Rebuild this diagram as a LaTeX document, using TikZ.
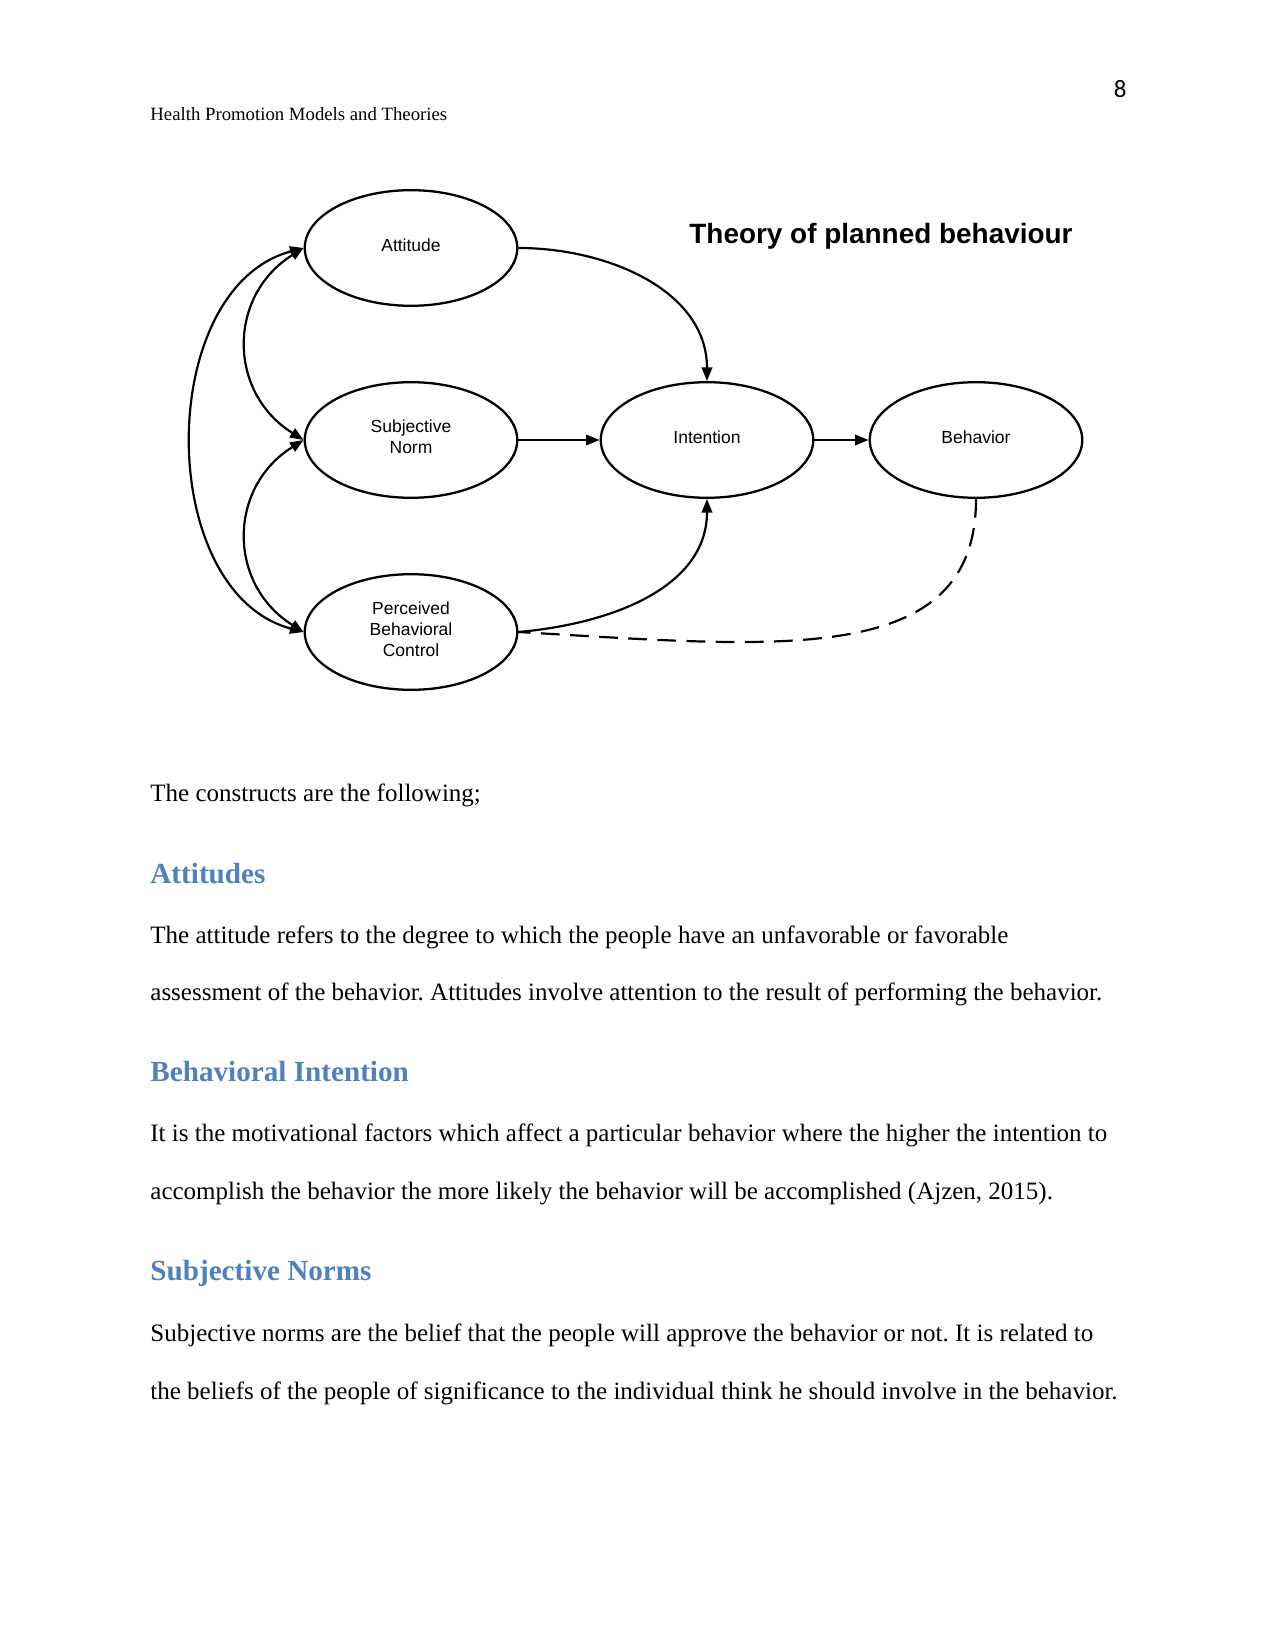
\documentclass[tikz,border=0pt]{standalone}
\usepackage{fontspec}
\setmainfont{Liberation Serif}
\newfontfamily\arialfont{Liberation Sans}
\newfontfamily\calfont{Carlito}
\usetikzlibrary{shapes.geometric,arrows.meta}
\definecolor{headblue}{HTML}{4F81BD}
\frenchspacing
\begin{document}
\begin{tikzpicture}[x=0.48pt,y=-0.48pt,
  >={Triangle[length=6.5pt,width=5pt]},
  oval/.style={ellipse,draw,line width=1.1pt,minimum width=102pt,minimum height=55.5pt,inner sep=0pt,text depth=3pt,align=center,font=\arialfont\fontsize{8.4pt}{10.1pt}\selectfont},
  conn/.style={line width=1.05pt},
  bodytext/.style={anchor=base west,inner sep=0pt,font=\fontsize{12pt}{14pt}\selectfont},
  headtext/.style={anchor=base west,inner sep=0pt,text=headblue,font=\bfseries\fontsize{14pt}{16pt}\selectfont}]
\useasboundingbox[fill=white] (0,0) rectangle (1275,1650);

% header
\node[anchor=base west,inner sep=0pt,font=\fontsize{9pt}{11pt}\selectfont] (hdr) at (150,121) {Health Promotion Models and Theories};
\node[anchor=base east,inner sep=0pt,font=\calfont\fontsize{12pt}{14pt}\selectfont] (pg) at (1127,98) {8};

% diagram
\node[oval] (att) at (411,248) {Attitude};
\node[oval] (sn) at (411,440) {Subjective\\Norm};
\node[oval] (pbc) at (411,632) {Perceived\\Behavioral\\Control};
\node[oval] (int) at (707,440) {Intention};
\node[oval] (beh) at (976,440) {Behavior};
\node[anchor=base west,inner sep=0pt,font=\arialfont\bfseries\fontsize{13.4pt}{16pt}\selectfont] (ttl) at (689,244) {Theory of planned behaviour};

\draw[conn,->] (att.east) to[out=0,in=90] (int.north);
\draw[conn,->] (sn.east) -- (int.west);
\draw[conn,->] (int.east) -- (beh.west);
\draw[conn,->] (pbc.east) to[out=5,in=-90] (int.south);
\draw[conn,dash pattern=on 9pt off 5pt] (beh.south) .. controls +(0,170) and +(260,15) .. (pbc.east);
\draw[conn,<->] (att.west) to[out=212,in=148,looseness=1.2] (sn.west);
\draw[conn,<->] (sn.west) to[out=212,in=148,looseness=1.2] (pbc.west);
\draw[conn,<->] (att.west) to[out=195,in=165,looseness=1.03] (pbc.west);

% body text
\node[bodytext] (t1) at (150,801) {The constructs are the following;};
\node[headtext] (h1) at (150,883) {Attitudes};
\node[bodytext] (t2) at (150,943) {The attitude refers to the degree to which the people have an unfavorable or favorable};
\node[bodytext] (t3) at (150,1000) {assessment of the behavior. Attitudes involve attention to the result of performing the behavior.};
\node[headtext] (h2) at (150,1081) {Behavioral Intention};
\node[bodytext] (t4) at (150,1141) {It is the motivational factors which affect a particular behavior where the higher the intention to};
\node[bodytext] (t5) at (150,1199) {accomplish the behavior the more likely the behavior will be accomplished (Ajzen, 2015).};
\node[headtext] (h3) at (150,1280) {Subjective Norms};
\node[bodytext] (t6) at (150,1341) {Subjective norms are the belief that the people will approve the behavior or not. It is related to};
\node[bodytext] (t7) at (150,1399) {the beliefs of the people of significance to the individual think he should involve in the behavior.};
\end{tikzpicture}
\end{document}
